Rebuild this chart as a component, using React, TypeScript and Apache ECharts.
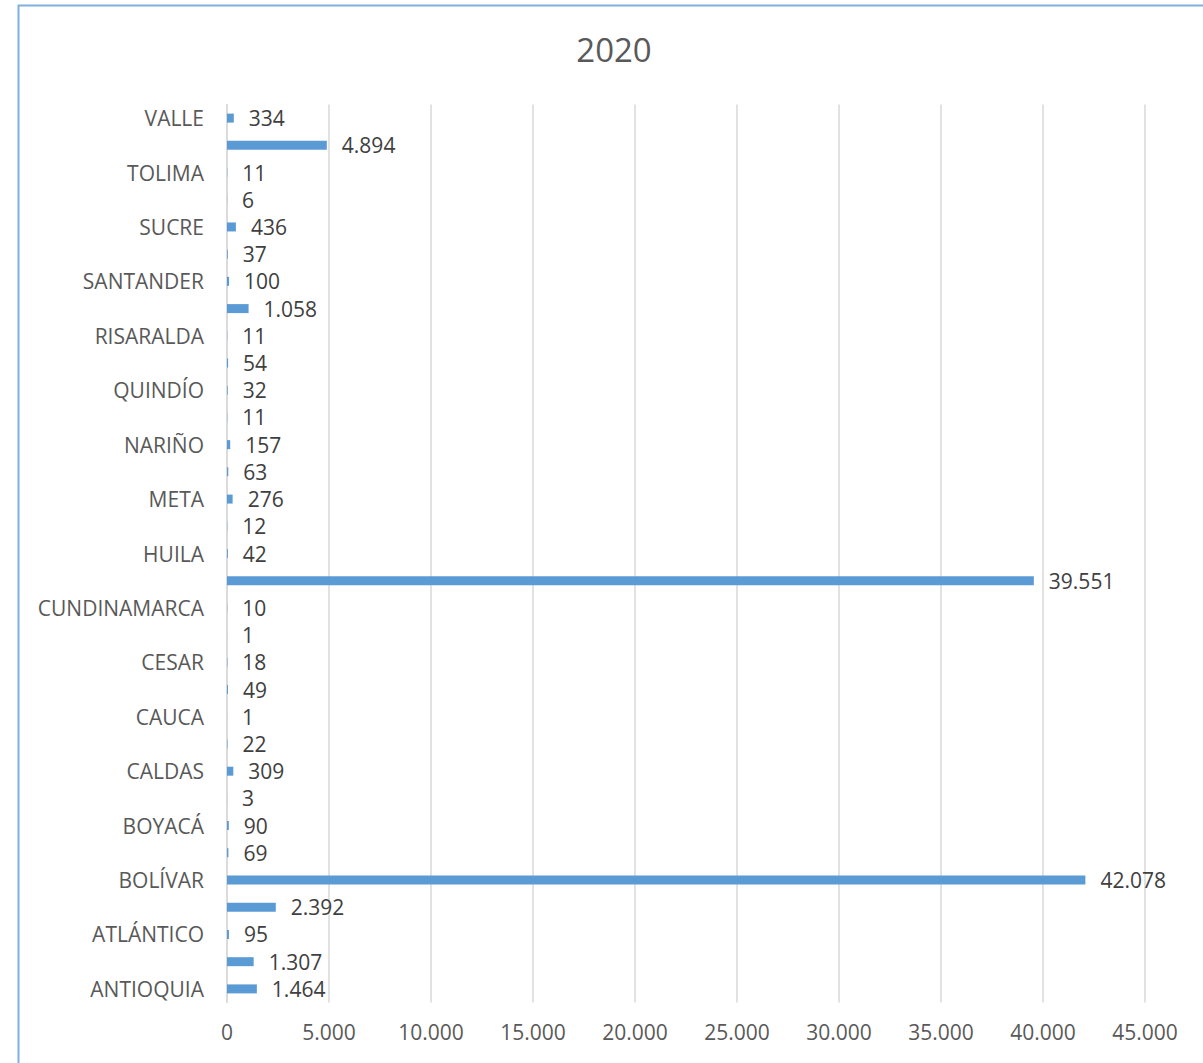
import React, { useEffect, useRef } from "react";
import * as echarts from "echarts";

const categories = [
  "ANTIOQUIA", "ARAUCA", "ATLÁNTICO", "BOGOTÁ", "BOLÍVAR", "BOYACÁ (OTROS)",
  "BOYACÁ", "CAQUETÁ", "CALDAS", "CASANARE", "CAUCA", "CHOCÓ",
  "CESAR", "CÓRDOBA", "CUNDINAMARCA", "GUAVIARE", "HUILA", "LA GUAJIRA",
  "META", "MAGDALENA", "NARIÑO", "NORTE DE SANTANDER", "QUINDÍO", "PUTUMAYO",
  "RISARALDA", "SAN ANDRÉS", "SANTANDER", "SAN ANDRÉS (OTROS)", "SUCRE", "TOLIMA (OTROS)",
  "TOLIMA", "VALLE (OTROS)", "VALLE",
];

const values = [
  1464, 1307, 95, 2392, 42078, 69,
  90, 3, 309, 22, 1, 49,
  18, 1, 10, 39551, 42, 12,
  276, 63, 157, 11, 32, 54,
  11, 1058, 100, 37, 436, 6,
  11, 4894, 334,
];

const xTicks = { min: 0, max: 45000, interval: 5000 };
const title = "2020";

const fmt = (v: number) => String(Math.round(v)).replace(/\B(?=(\d{3})+(?!\d))/g, ".");

export default function App() {
  const ref = useRef<HTMLDivElement>(null);
  useEffect(() => {
    document.body.style.margin = "0";
    const chart = echarts.init(ref.current!, null, { renderer: "svg" });
    const font = "'Open Sans', 'Noto Sans', sans-serif";
    chart.setOption({
      animation: false,
      backgroundColor: "#ffffff",
      graphic: [
        {
          type: "rect",
          shape: { x: 18.5, y: 5.5, width: 1300, height: 1200 },
          style: { fill: "none", stroke: "#7fb0df", lineWidth: 2 },
          silent: true,
        },
        {
          type: "text",
          x: 614,
          y: 49,
          style: {
            text: title,
            fontFamily: font,
            fontSize: 33,
            fill: "#595959",
            align: "center",
            verticalAlign: "middle",
          },
          silent: true,
        },
      ],
      grid: { left: 227, right: 58, top: 104.5, bottom: 60.5, containLabel: false },
      xAxis: {
        type: "value",
        min: xTicks.min,
        max: xTicks.max,
        interval: xTicks.interval,
        axisLine: { show: false },
        axisTick: { show: false },
        splitLine: { show: true, lineStyle: { color: "#d9d9d9", width: 1.5 } },
        axisLabel: {
          margin: 19,
          fontFamily: font,
          fontSize: 21,
          color: "#595959",
          formatter: (v: number) => fmt(v),
        },
      },
      yAxis: {
        type: "category",
        data: categories,
        axisTick: { show: false },
        axisLine: { show: true, lineStyle: { color: "#d9d9d9", width: 1.5 } },
        axisLabel: {
          interval: 1,
          margin: 23,
          fontFamily: font,
          fontSize: 21,
          color: "#595959",
        },
      },
      series: [
        {
          type: "bar",
          data: values,
          barWidth: 9,
          itemStyle: { color: "#5b9bd5" },
          label: {
            show: true,
            position: "right",
            distance: 15,
            fontFamily: font,
            fontSize: 21,
            color: "#404040",
            formatter: (p: any) => fmt(p.value),
          },
        },
      ],
    });
    return () => chart.dispose();
  }, []);
  return <div ref={ref} style={{ width: 1203, height: 1063 }} />;
}
